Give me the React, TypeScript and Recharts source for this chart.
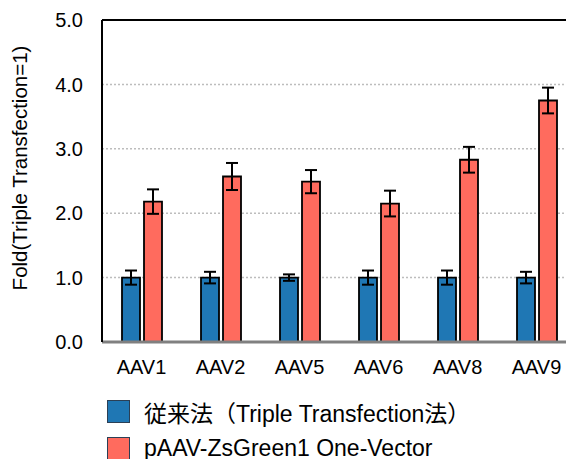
import React from "react";
import { BarChart, Bar, XAxis, YAxis, CartesianGrid, ErrorBar, ReferenceLine } from "recharts";

const categories = ["AAV1", "AAV2", "AAV5", "AAV6", "AAV8", "AAV9"];
const tripleValues = [1.0, 1.0, 1.0, 1.0, 1.0, 1.0];
const tripleErrors = [0.11, 0.09, 0.05, 0.11, 0.11, 0.09];
const oneVectorValues = [2.18, 2.57, 2.49, 2.15, 2.83, 3.75];
const oneVectorErrors = [0.19, 0.21, 0.18, 0.2, 0.2, 0.2];
const yTicks = [0, 1, 2, 3, 4, 5];
const seriesNames = ["従来法（Triple Transfection法）", "pAAV-ZsGreen1 One-Vector"];
const seriesColors = ["#1F77B4", "#FF6B5E"];

const data = categories.map((c, i) => ({
  name: c,
  triple: tripleValues[i],
  tripleErr: tripleErrors[i],
  one: oneVectorValues[i],
  oneErr: oneVectorErrors[i],
}));

const FONT = "'Liberation Sans', Arial, 'Noto Sans CJK JP', sans-serif";

export default function App() {
  return (
    <div style={{ position: "relative", width: 566, height: 451, overflow: "hidden", fontFamily: FONT }}>
      <BarChart
        width={572}
        height={451}
        data={data}
        margin={{ top: 12, right: 4, left: 0, bottom: 87 }}
        barSize={18}
        barGap={4}
      >
        <CartesianGrid vertical={false} stroke="#BDBDBD" strokeDasharray="2 2" strokeWidth={1.5} />
        <ReferenceLine y={5} stroke="#000" strokeWidth={2} />
        <XAxis
          dataKey="name"
          tickLine={false}
          axisLine={{ stroke: "#808080", strokeWidth: 3 }}
          tick={{ fill: "#000", fontSize: 20, fontFamily: FONT }}
          tickMargin={12}
          height={30}
        />
        <YAxis
          domain={[0, 5]}
          ticks={yTicks}
          interval={0}
          tickFormatter={(v: number) => v.toFixed(1)}
          tickLine={false}
          tickSize={0}
          tickMargin={19}
          axisLine={{ stroke: "#000", strokeWidth: 2 }}
          tick={{ fill: "#000", fontSize: 20, fontFamily: FONT }}
          width={94}
          label={() => {
            const cx = 11;
            const cy = 160;
            return (
              <text
                x={cx}
                y={cy}
                transform={`rotate(-90 ${cx} ${cy})`}
                textAnchor="middle"
                dominantBaseline="central"
                fontSize={20.5}
                fill="#000"
                fontFamily={FONT}
              >
                Fold(Triple Transfection=1)
              </text>
            );
          }}
        />
        <Bar dataKey="triple" fill={seriesColors[0]} stroke="#000" strokeWidth={1.8} isAnimationActive={false}>
          <ErrorBar dataKey="tripleErr" width={6} stroke="#000" strokeWidth={2} />
        </Bar>
        <Bar dataKey="one" fill={seriesColors[1]} stroke="#000" strokeWidth={1.8} isAnimationActive={false}>
          <ErrorBar dataKey="oneErr" width={6} stroke="#000" strokeWidth={2} />
        </Bar>
      </BarChart>
      <div style={{ position: "absolute", left: 99, top: 385 }}>
        {seriesNames.map((n, i) => (
          <div key={n} style={{ display: "flex", alignItems: "center", height: 37 }}>
            <div
              style={{
                width: 21,
                height: 21,
                background: seriesColors[i],
                border: "1.5px solid #2b3f55",
                marginRight: 14,
              }}
            />
            <span style={{ fontSize: 23, color: "#000", fontFamily: FONT, whiteSpace: "nowrap" }}>{n}</span>
          </div>
        ))}
      </div>
    </div>
  );
}
